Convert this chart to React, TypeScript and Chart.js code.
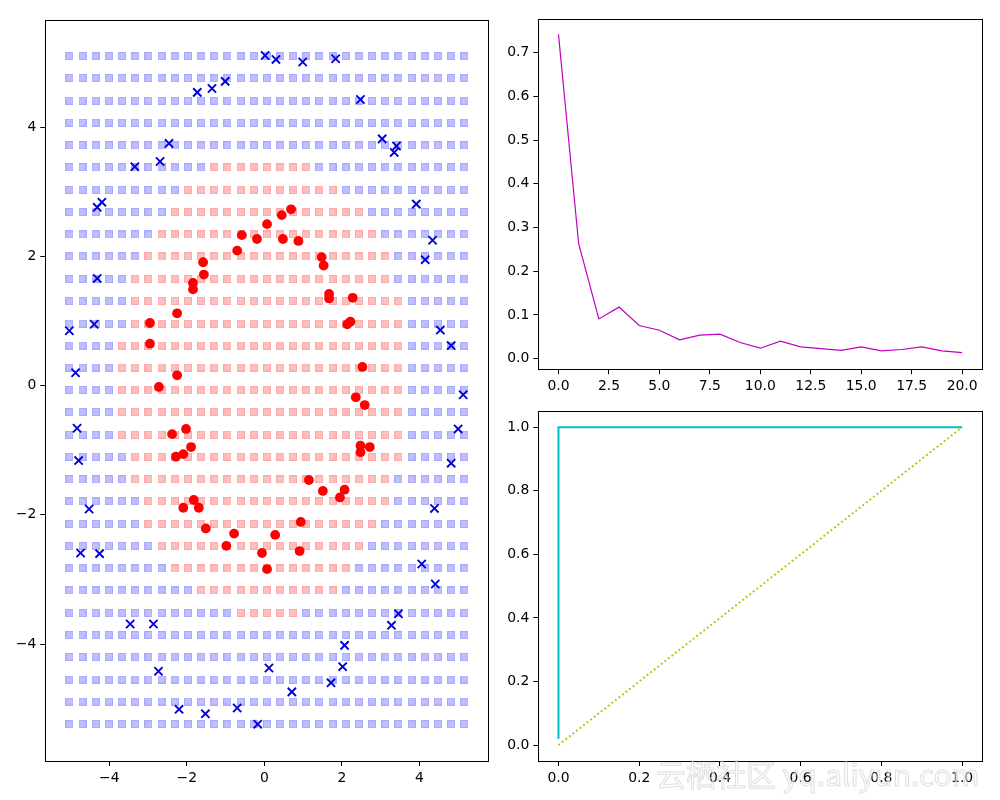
import React, { useEffect, useRef } from 'react';
import { Chart, registerables } from 'chart.js';

Chart.register(...registerables);

// ---------- data: decision-surface grid ----------
const gridXs = [-5.03, -4.69, -4.35, -4.01, -3.67, -3.33, -2.99, -2.65, -2.31, -1.97, -1.63, -1.29, -0.95, -0.61, -0.27, 0.07, 0.41, 0.74, 1.08, 1.42, 1.76, 2.10, 2.44, 2.78, 3.12, 3.46, 3.80, 4.14, 4.48, 4.82, 5.16];
// rows from top to bottom
const gridYs = [5.10, 4.76, 4.41, 4.07, 3.72, 3.38, 3.03, 2.69, 2.34, 2.00, 1.65, 1.31, 0.96, 0.62, 0.28, -0.07, -0.41, -0.76, -1.10, -1.45, -1.79, -2.14, -2.48, -2.83, -3.17, -3.52, -3.86, -4.20, -4.55, -4.89, -5.24];
// first / last column predicted as the red class in each row (-1 = none)
const redColStart = [-1, -1, -1, -1, -1, 11, 9, 8, 7, 6, 5, 5, 5, 4, 4, 4, 4, 4, 5, 5, 6, 6, 7, 8, 10, 13, -1, -1, -1, -1, -1];
const redColEnd = [-1, -1, -1, -1, -1, 18, 20, 22, 23, 24, 24, 25, 25, 25, 25, 25, 25, 25, 25, 24, 24, 23, 22, 21, 20, 17, -1, -1, -1, -1, -1];

// ---------- data: samples ----------
const redX = [0.69, 0.45, 0.07, -0.58, -0.19, 0.48, 0.88, -0.70, 1.48, 1.53, -1.58, -1.56, -1.84, -1.84, 1.67, 1.67, 2.28, -2.25, 2.22, 2.14, -2.95, -2.95, 2.53, -2.25, -2.72, 2.36, 2.59, -2.38, -2.02, -1.89, -2.28, -2.09, 2.48, 2.48, 2.72, 1.15, 1.51, 2.07, 1.95, -1.82, -2.09, -1.69, -1.51, -0.78, -0.98, 0.94, 0.28, -0.06, 0.91, 0.07];
const redY = [2.73, 2.64, 2.50, 2.33, 2.27, 2.27, 2.24, 2.09, 1.99, 1.86, 1.91, 1.72, 1.59, 1.49, 1.42, 1.35, 1.36, 1.12, 0.99, 0.95, 0.97, 0.65, 0.29, 0.16, -0.02, -0.18, -0.30, -0.75, -0.67, -0.95, -1.10, -1.06, -0.93, -1.03, -0.95, -1.46, -1.63, -1.61, -1.73, -1.77, -1.89, -1.89, -2.21, -2.29, -2.48, -2.11, -2.31, -2.59, -2.56, -2.84];
const blueX = [0.02, 0.30, 0.99, 1.84, -1.73, -1.35, -1.01, 2.48, -2.46, -2.69, -3.34, 3.04, 3.41, 3.35, -4.19, -4.31, 3.92, 4.34, 4.15, -4.31, -5.03, -4.39, 4.54, 4.82, -4.87, 5.13, -4.83, 5.00, -4.79, 4.82, -4.52, 4.39, -4.74, -4.25, 4.06, 4.41, -3.46, -2.86, 3.46, 3.28, 2.07, 2.02, -2.73, 0.12, 1.72, 0.71, -2.20, -1.52, -0.70, -0.17];
const blueY = [5.11, 5.05, 5.01, 5.06, 4.54, 4.60, 4.71, 4.43, 3.75, 3.47, 3.39, 3.82, 3.71, 3.61, 2.84, 2.76, 2.81, 2.25, 1.95, 1.66, 0.85, 0.95, 0.86, 0.62, 0.20, -0.14, -0.66, -0.67, -1.16, -1.20, -1.91, -1.90, -2.59, -2.60, -2.76, -3.07, -3.69, -3.69, -3.53, -3.71, -4.02, -4.35, -4.42, -4.37, -4.60, -4.74, -5.01, -5.08, -4.99, -5.24];

// ---------- data: loss curve ----------
const epochs = [0, 1, 2, 3, 4, 5, 6, 7, 8, 9, 10, 11, 12, 13, 14, 15, 16, 17, 18, 19, 20];
const losses = [0.742, 0.263, 0.091, 0.118, 0.076, 0.065, 0.043, 0.054, 0.056, 0.037, 0.024, 0.040, 0.027, 0.023, 0.019, 0.027, 0.018, 0.021, 0.027, 0.018, 0.014];

// ---------- data: ROC ----------
const rocFpr = [0, 0, 1];
const rocTpr = [0.02, 1, 1];
const chanceX = [0, 1];
const chanceY = [0, 1];

// ---------- tick labels ----------
const scatterXTicks = [-4, -2, 0, 2, 4];
const scatterYTicks = [-4, -2, 0, 2, 4];
const lossXTicks = [0, 2.5, 5, 7.5, 10, 12.5, 15, 17.5, 20];
const lossYTicks = [0, 0.1, 0.2, 0.3, 0.4, 0.5, 0.6, 0.7];
const rocTicks = [0, 0.2, 0.4, 0.6, 0.8, 1.0];

const FONT = { family: "'DejaVu Sans', sans-serif", size: 13.9 };

const fmt = (v: number, digits: number) => v.toFixed(digits).replace('-', '\u2212');

const framePlugin = {
  id: 'frame',
  afterDraw(chart: any) {
    const { ctx, chartArea: a } = chart;
    ctx.save();
    ctx.strokeStyle = '#000';
    ctx.lineWidth = 1;
    const l = Math.round(a.left) + 0.5;
    const t = Math.round(a.top) + 0.5;
    const r = Math.round(a.right) + 0.5;
    const b = Math.round(a.bottom) + 0.5;
    ctx.strokeRect(l, t, r - l, b - t);
    ctx.restore();
  },
};

function axis(min: number, max: number, ticks: number[], digits: number, size: number, horizontal: boolean) {
  return {
    type: 'linear',
    min,
    max,
    afterBuildTicks: (s: any) => {
      s.ticks = ticks.map((v) => ({ value: v }));
    },
    afterFit: (s: any) => {
      if (horizontal) s.height = size;
      else s.width = size;
    },
    grid: {
      display: true,
      drawOnChartArea: false,
      drawTicks: true,
      tickLength: 5,
      tickWidth: 1,
      tickColor: '#000',
      color: '#000',
    },
    border: { display: false },
    ticks: {
      color: '#000',
      font: FONT,
      padding: 4,
      autoSkip: false,
      maxRotation: 0,
      minRotation: 0,
      callback: (v: any) => fmt(Number(v), digits),
    },
  };
}

function buildGrid(red: boolean) {
  const pts: { x: number; y: number }[] = [];
  gridYs.forEach((y, r) => {
    gridXs.forEach((x, c) => {
      const isRed = redColStart[r] >= 0 && c >= redColStart[r] && c <= redColEnd[r];
      if (isRed === red) pts.push({ x, y });
    });
  });
  return pts;
}

// square marker image (8x8 px) with a slightly darker rim, like matplotlib's 's' marker with alpha
function squareMarker(fill: string, rim: string) {
  const c = document.createElement('canvas');
  c.width = 8;
  c.height = 8;
  const g = c.getContext('2d')!;
  g.fillStyle = fill;
  g.fillRect(0, 0, 8, 8);
  g.strokeStyle = rim;
  g.lineWidth = 1;
  g.strokeRect(0.5, 0.5, 7, 7);
  return c;
}

const commonOptions = (padding: any) => ({
  responsive: false,
  maintainAspectRatio: false,
  animation: false,
  events: [],
  layout: { padding },
  plugins: { legend: { display: false }, tooltip: { enabled: false } },
});

function scatterConfig(): any {
  return {
    type: 'scatter',
    data: {
      datasets: [
        {
          data: buildGrid(false),
          pointStyle: squareMarker('rgba(0,0,255,0.25)', 'rgba(0,0,255,0.12)'),
          pointRadius: 4,
          order: 3,
        },
        {
          data: buildGrid(true),
          pointStyle: squareMarker('rgba(255,0,0,0.25)', 'rgba(255,0,0,0.12)'),
          pointRadius: 4,
          order: 2,
        },
        {
          data: redX.map((x, i) => ({ x, y: redY[i] })),
          pointStyle: 'circle',
          pointRadius: 4.9,
          backgroundColor: '#ff0000',
          borderWidth: 0,
          order: 1,
        },
        {
          data: blueX.map((x, i) => ({ x, y: blueY[i] })),
          pointStyle: 'crossRot',
          pointRadius: 5.8,
          borderColor: '#0000dd',
          backgroundColor: '#0000dd',
          borderWidth: 1.9,
          order: 0,
        },
      ],
    },
    options: {
      ...commonOptions({ left: 0, right: 512, top: 20, bottom: 9 }),
      scales: {
        x: axis(-5.65, 5.77, scatterXTicks, 0, 30, true),
        y: axis(-5.81, 5.66, scatterYTicks, 0, 45.3, false),
      },
    },
    plugins: [framePlugin],
  };
}

function lossConfig(): any {
  return {
    type: 'line',
    data: {
      datasets: [
        {
          data: epochs.map((x, i) => ({ x, y: losses[i] })),
          borderColor: '#bf00bf',
          borderWidth: 1.2,
          pointRadius: 0,
          tension: 0,
          fill: false,
        },
      ],
    },
    options: {
      ...commonOptions({ left: 498.3, right: 17.7, top: 19, bottom: 400.7 }),
      scales: {
        x: axis(-1, 21, lossXTicks, 1, 30, true),
        y: axis(-0.0243, 0.7773, lossYTicks, 1, 40, false),
      },
    },
    plugins: [framePlugin],
  };
}

function rocConfig(): any {
  return {
    type: 'line',
    data: {
      datasets: [
        {
          data: rocFpr.map((x, i) => ({ x, y: rocTpr[i] })),
          borderColor: '#00bfbf',
          borderWidth: 2,
          pointRadius: 0,
          tension: 0,
          fill: false,
        },
        {
          data: chanceX.map((x, i) => ({ x, y: chanceY[i] })),
          borderColor: '#bfbf00',
          borderWidth: 1.9,
          borderDash: [1.9, 2.6],
          pointRadius: 0,
          tension: 0,
          fill: false,
        },
      ],
    },
    options: {
      ...commonOptions({ left: 498.3, right: 17.7, top: 411.3, bottom: 9 }),
      scales: {
        x: axis(-0.05, 1.05, rocTicks, 1, 30, true),
        y: axis(-0.05, 1.05, rocTicks, 1, 40, false),
      },
    },
    plugins: [framePlugin],
  };
}

function ChartCanvas({ make }: { make: () => any }) {
  const ref = useRef<HTMLCanvasElement | null>(null);
  useEffect(() => {
    if (!ref.current) return;
    const chart = new Chart(ref.current, make());
    return () => chart.destroy();
  }, [make]);
  return (
    <canvas
      ref={ref}
      width={1000}
      height={800}
      style={{ position: 'absolute', left: 0, top: 0, width: 1000, height: 800 }}
    />
  );
}

export default function App() {
  return (
    <div
      style={{
        position: 'absolute',
        left: 0,
        top: 0,
        width: 1000,
        height: 800,
        background: '#fff',
        overflow: 'hidden',
      }}
    >
      <ChartCanvas make={scatterConfig} />
      <ChartCanvas make={lossConfig} />
      <ChartCanvas make={rocConfig} />
      <div
        style={{
          position: 'absolute',
          left: 656,
          top: 756,
          fontFamily: "'Noto Sans CJK SC', 'Noto Sans', sans-serif",
          fontSize: 30,
          lineHeight: '34px',
          color: 'rgba(255,255,255,0.55)',
          WebkitTextStroke: '1px rgba(160,160,160,0.35)',
          whiteSpace: 'nowrap',
          pointerEvents: 'none',
        }}
      >
        云栖社区 yq.aliyun.com
      </div>
    </div>
  );
}
